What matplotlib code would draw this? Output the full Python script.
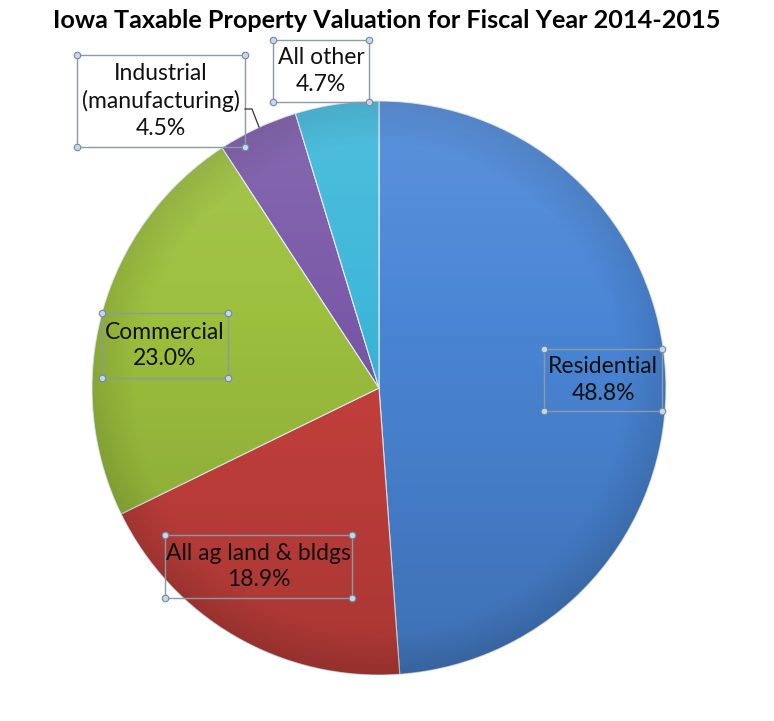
import matplotlib.pyplot as plt
import numpy as np
from matplotlib.patches import Rectangle, Circle

# data
categories = ["Residential", "All ag land & bldgs", "Commercial",
              "Industrial\n(manufacturing)", "All other"]
shares = [48.8, 18.9, 23.0, 4.5, 4.7]
colors = ["#4a86d6", "#c8413d", "#9dc03e", "#7a59a8", "#3db7d9"]
title = "Iowa Taxable Property Valuation for Fiscal Year 2014-2015"

plt.rcParams['font.family'] = ['Lato', 'DejaVu Sans']

W, H = 774, 721
cx, cy, R = 379, 388, 287

fig = plt.figure(figsize=(W / 100, H / 100), dpi=100)
fig.patch.set_facecolor("white")

# one axes over the whole figure, units = pie radius
ax = fig.add_axes([0, 0, 1, 1])


def px(x, y):
    return (x - cx) / R, (cy - y) / R


wedges, _ = ax.pie(shares, colors=colors, startangle=90, counterclock=False,
                   radius=1, center=(0, 0), frame=True,
                   wedgeprops=dict(edgecolor="#e8eef5", linewidth=0.8))
ax.set_xlim(-cx / R, (W - cx) / R)
ax.set_ylim(-(H - cy) / R, cy / R)
ax.axis("off")

# shading: a bit darker toward bottom and rim
yy, xx = np.mgrid[-1:1:300j, -1:1:300j]
rr = np.sqrt(xx ** 2 + yy ** 2)
shade = np.zeros((300, 300, 4))
alpha = 0.16 * np.clip((0.3 - yy) / 1.3, 0, 1) + 0.10 * np.clip((rr - 0.85) / 0.15, 0, 1)
shade[..., 3] = np.clip(alpha, 0, 0.3)
im = ax.imshow(shade[::-1], extent=(-1, 1, -1, 1), zorder=3, interpolation="bilinear")
im.set_clip_path(Circle((0, 0), 1, transform=ax.transData))
# top highlight
hl = np.zeros((300, 300, 4))
hl[..., :3] = 1
hl[..., 3] = 0.10 * np.clip((yy - 0.2) / 0.8, 0, 1)
im2 = ax.imshow(hl[::-1], extent=(-1, 1, -1, 1), zorder=3, interpolation="bilinear")
im2.set_clip_path(Circle((0, 0), 1, transform=ax.transData))

# labels with selection boxes
boxes = [(544, 349, 662, 411), (165, 535, 352, 598), (102, 313, 228, 378),
         (77, 55, 245, 147), (273, 40, 369, 102)]
for cat, val, (x0, y0, x1, y1) in zip(categories, shares, boxes):
    a0, b0 = px(x0, y1)
    a1, b1 = px(x1, y0)
    ax.add_patch(Rectangle((a0, b0), a1 - a0, b1 - b0, fill=False,
                           edgecolor="#8a9aa8", linewidth=1, zorder=5))
    ax.scatter([a0, a1, a0, a1], [b0, b0, b1, b1], s=22, facecolor="#c9d6e6",
               edgecolor="#6d8aa8", linewidth=0.8, zorder=6)
    ax.text((a0 + a1) / 2, (b0 + b1) / 2, f"{cat}\n{val:.1f}%", ha="center",
            va="center", fontsize=16.5, color="#111111", linespacing=1.35, zorder=7)

# leader line for industrial
lx, ly = zip(px(245, 109), px(252, 109), px(259, 127))
ax.plot(lx, ly, color="#333333", lw=0.9, zorder=5)

fig.text(0.5, 1 - 20 / H, title, ha="center", va="center", fontsize=18.2,
         fontweight="bold", color="black")

fig.savefig("out.png", dpi=100, facecolor="white")
